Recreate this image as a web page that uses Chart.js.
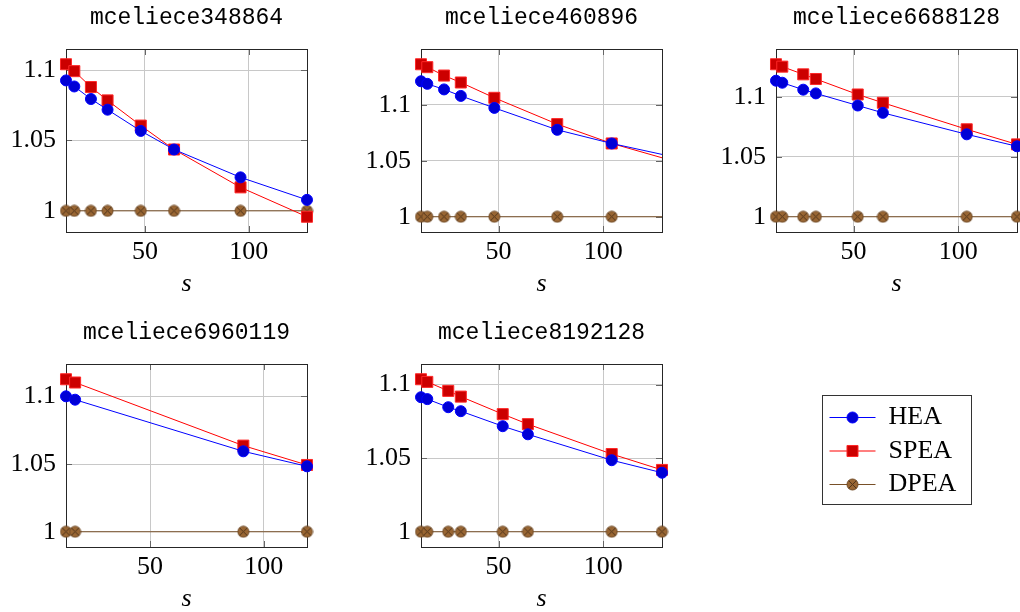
<!DOCTYPE html>
<html><head><meta charset="utf-8">
<script src="https://cdn.jsdelivr.net/npm/chart.js@4/dist/chart.umd.min.js"></script>
<style>
html,body{margin:0;padding:0;background:#fff;width:1020px;height:612px;overflow:hidden;}
#wrap{position:relative;width:1020px;height:612px;}
#wrap canvas{position:absolute;}
#legendBox{position:absolute;left:822px;top:395px;width:148px;height:108px;border:1px solid #333;}
</style></head><body><div id="wrap"><div id="legendBox"></div></div>
<script>
// ---------------- data ----------------
const panelTitles = ['mceliece348864','mceliece460896','mceliece6688128','mceliece6960119','mceliece8192128'];
const seriesNames = ['HEA','SPEA','DPEA'];

const s348864    = [12,16,24,32,48,64,96,128];
const hea348864  = [1.0927,1.0884,1.0795,1.0719,1.0568,1.0436,1.0238,1.0078];
const spea348864 = [1.1042,1.0993,1.0880,1.0785,1.0606,1.0436,1.0167,0.9958];
const dpea348864 = [1,1,1,1,1,1,1,1];

const s460896    = [13,16,24,32,48,78,104,156];
const hea460896  = [1.1211,1.1188,1.1138,1.1080,1.0973,1.0777,1.0655,1.0443];
const spea460896 = [1.1363,1.1337,1.1262,1.1200,1.1063,1.0828,1.0655,1.0378];
const dpea460896 = [1,1,1,1,1,1,1,1];

const s6688128    = [13,16,26,32,52,64,104,128];
const hea6688128  = [1.1134,1.1117,1.1059,1.1028,1.0927,1.0866,1.0687,1.0587];
const spea6688128 = [1.1271,1.1251,1.1187,1.1148,1.1019,1.0950,1.0729,1.0603];
const dpea6688128 = [1,1,1,1,1,1,1,1];

const s6960119    = [13,17,91,119];
const hea6960119  = [1.1000,1.0975,1.0594,1.0483];
const spea6960119 = [1.1126,1.1102,1.0636,1.0493];
const dpea6960119 = [1,1,1,1];

const s8192128    = [13,16,26,32,52,64,104,128];
const hea8192128  = [1.0914,1.0901,1.0846,1.0819,1.0717,1.0662,1.0486,1.0401];
const spea8192128 = [1.1036,1.1018,1.0957,1.0918,1.0799,1.0731,1.0528,1.0420];
const dpea8192128 = [1,1,1,1,1,1,1,1];

const xMins = [12,13,13,13,13];
const xMaxs = [128,128,128,119,128];
const yMins = [0.98496,0.98637,0.98729,0.98874,0.98964];
const yMaxs = [1.11504,1.14993,1.13981,1.12386,1.11396];

const xTickValues = [50,100];
const yTickValues = [1,1.05,1.1];

const panelS    = [s348864,s460896,s6688128,s6960119,s8192128];
const panelHEA  = [hea348864,hea460896,hea6688128,hea6960119,hea8192128];
const panelSPEA = [spea348864,spea460896,spea6688128,spea6960119,spea8192128];
const panelDPEA = [dpea348864,dpea460896,dpea6688128,dpea6960119,dpea8192128];

// ---------------- layout / style ----------------
const colLeft = [66,421,776];
const rowTop = [49,364];
const panelGrid = [[0,0],[1,0],[2,0],[0,1],[1,1]];
const AXIS_W = 66, TITLE_H = 49, XAXIS_H = 70, PLOT_W = 241, PLOT_H = 183, PAD_R = 20;
const SERIF = "'Liberation Serif','DejaVu Serif',serif";
const MONO = "'Liberation Mono','DejaVu Sans Mono',monospace";

function makeOtimes(r, fill, stroke, cross) {
  const size = Math.ceil(2*r + 2);
  const cv = document.createElement('canvas'); cv.width = size; cv.height = size;
  const g = cv.getContext('2d'); const c = size/2;
  g.fillStyle = fill; g.strokeStyle = stroke; g.lineWidth = 1;
  g.beginPath(); g.arc(c,c,r,0,2*Math.PI); g.fill(); g.stroke();
  const d = r*Math.SQRT1_2;
  g.strokeStyle = cross;
  g.beginPath(); g.moveTo(c-d,c-d); g.lineTo(c+d,c+d); g.moveTo(c-d,c+d); g.lineTo(c+d,c-d); g.stroke();
  return cv;
}
const otimesImg = makeOtimes(5.5,'rgb(153,102,51)','rgb(110,72,36)','rgb(80,52,26)');

const seriesStyles = [
  {borderColor:'rgb(0,0,255)', pointBackgroundColor:'rgb(0,0,214)', pointBorderColor:'rgb(0,0,255)', pointStyle:'circle', pointRadius:5.5},
  {borderColor:'rgb(255,0,0)', pointBackgroundColor:'rgb(204,0,0)', pointBorderColor:'rgb(255,40,40)', pointStyle:'rect', pointRadius:7.8},
  {borderColor:'rgb(120,80,40)', pointBackgroundColor:'rgb(153,102,51)', pointBorderColor:'rgb(110,72,36)', pointStyle:otimesImg, pointRadius:5.5}
];

const framePlugin = {
  id: 'frame',
  beforeDatasetsDraw(chart) {
    const {ctx, chartArea: a} = chart;
    const x = chart.scales.x, y = chart.scales.y;
    ctx.save();
    ctx.strokeStyle = '#666'; ctx.lineWidth = 1;
    const T = 6;
    ctx.beginPath();
    xTickValues.forEach(v => {
      if (v < x.min || v > x.max) return;
      const px = Math.round(x.getPixelForValue(v)) + 0.5;
      ctx.moveTo(px, a.top); ctx.lineTo(px, a.top + T);
      ctx.moveTo(px, a.bottom); ctx.lineTo(px, a.bottom - T);
    });
    yTickValues.forEach(v => {
      if (v < y.min || v > y.max) return;
      const py = Math.round(y.getPixelForValue(v)) + 0.5;
      ctx.moveTo(a.left, py); ctx.lineTo(a.left + T, py);
      ctx.moveTo(a.right, py); ctx.lineTo(a.right - T, py);
    });
    ctx.stroke();
    ctx.strokeStyle = '#262626';
    ctx.strokeRect(Math.round(a.left) + 0.5, Math.round(a.top) + 0.5, Math.round(a.right - a.left), Math.round(a.bottom - a.top));
    ctx.restore();
  }
};

const wrap = document.getElementById('wrap');

function makePanel(i) {
  const [col, row] = panelGrid[i];
  const c = document.createElement('canvas');
  c.width = AXIS_W + PLOT_W + PAD_R; c.height = TITLE_H + PLOT_H + XAXIS_H;
  c.style.left = (colLeft[col] - AXIS_W) + 'px';
  c.style.top = (rowTop[row] - TITLE_H) + 'px';
  wrap.appendChild(c);
  const sVals = panelS[i];
  const seriesVals = [panelHEA[i], panelSPEA[i], panelDPEA[i]];
  const beyond = sVals.some(v => v > xMaxs[i]);
  const datasets = seriesNames.map((name, k) => Object.assign({
    label: name,
    data: sVals.map((sv, j) => ({x: sv, y: seriesVals[k][j]})),
    borderWidth: 1, pointBorderWidth: 1, tension: 0, fill: false,
    clip: {left: 10, top: 10, right: beyond ? 0 : 10, bottom: 10}
  }, seriesStyles[k]));
  new Chart(c, {
    type: 'line',
    data: {datasets},
    options: {
      responsive: false, animation: false, events: [],
      layout: {padding: {left: 0, top: 0, right: PAD_R, bottom: 0}},
      plugins: {
        legend: {display: false}, tooltip: {enabled: false},
        title: {display: true, text: panelTitles[i], fullSize: false, color: '#000',
          font: {family: MONO, size: 23, weight: 'normal', lineHeight: 1.2},
          padding: {top: 4, bottom: TITLE_H - 4 - 23*1.2}}
      },
      scales: {
        x: {
          type: 'linear', min: xMins[i], max: xMaxs[i],
          afterBuildTicks: s => { s.ticks = xTickValues.filter(v => v >= xMins[i] && v <= xMaxs[i]).map(v => ({value: v})); },
          afterFit: s => { s.height = XAXIS_H; },
          ticks: {color: '#000', padding: 5, font: {family: SERIF, size: 26, lineHeight: 1.2}, maxRotation: 0, callback: v => String(v)},
          grid: {color: '#c8c8c8', lineWidth: 1, drawTicks: false},
          border: {display: false},
          title: {display: true, text: 's', color: '#000', font: {family: SERIF, size: 26, style: 'italic', lineHeight: 1.2}, padding: {top: 0, bottom: 2}}
        },
        y: {
          type: 'linear', min: yMins[i], max: yMaxs[i],
          afterBuildTicks: s => { s.ticks = yTickValues.filter(v => v >= yMins[i] && v <= yMaxs[i]).map(v => ({value: v})); },
          afterFit: s => { s.width = AXIS_W; },
          ticks: {color: '#000', padding: 10, font: {family: SERIF, size: 26, lineHeight: 1.2}, callback: v => String(v)},
          grid: {color: '#c8c8c8', lineWidth: 1, drawTicks: false},
          border: {display: false}
        }
      }
    },
    plugins: [framePlugin]
  });
}
for (let i = 0; i < panelTitles.length; i++) makePanel(i);

// ---------------- legend ----------------
const LEG_BOX_W = 46;
const legendMarkers = {
  id: 'legendMarkers',
  afterDraw(chart) {
    const ctx = chart.ctx;
    const boxes = chart.legend && chart.legend.legendHitBoxes;
    if (!boxes) return;
    chart.data.datasets.forEach((d, i) => {
      const hb = boxes[i]; if (!hb) return;
      const cx = hb.left + LEG_BOX_W / 2, cy = hb.top + hb.height / 2;
      ctx.save();
      ctx.fillStyle = d.pointBackgroundColor; ctx.strokeStyle = d.pointBorderColor; ctx.lineWidth = 1;
      if (Chart.helpers && Chart.helpers.drawPoint) {
        Chart.helpers.drawPoint(ctx, {pointStyle: d.pointStyle, radius: d.pointRadius, borderWidth: 1, rotation: 0}, cx, cy);
      }
      ctx.restore();
    });
  }
};
const lc = document.createElement('canvas');
lc.width = 149; lc.height = 240;
lc.style.left = '822px'; lc.style.top = '395px';
wrap.appendChild(lc);
new Chart(lc, {
  type: 'line',
  data: {datasets: seriesNames.map((name, k) => Object.assign({label: name, data: []}, seriesStyles[k]))},
  options: {
    responsive: false, animation: false, events: [],
    layout: {padding: {top: 2, left: 0, right: 0, bottom: 0}},
    scales: {x: {display: false}, y: {display: false}},
    plugins: {
      tooltip: {enabled: false},
      legend: {
        display: true, position: 'top', align: 'start',
        labels: {
          boxWidth: LEG_BOX_W, boxHeight: 1, padding: 7.5, color: '#000',
          font: {family: SERIF, size: 26},
          generateLabels: chart => chart.data.datasets.map((d, i) => ({
            text: d.label, fillStyle: d.borderColor, strokeStyle: d.borderColor, lineWidth: 0, hidden: false, datasetIndex: i
          }))
        }
      }
    }
  },
  plugins: [legendMarkers]
});
</script>
</body></html>
